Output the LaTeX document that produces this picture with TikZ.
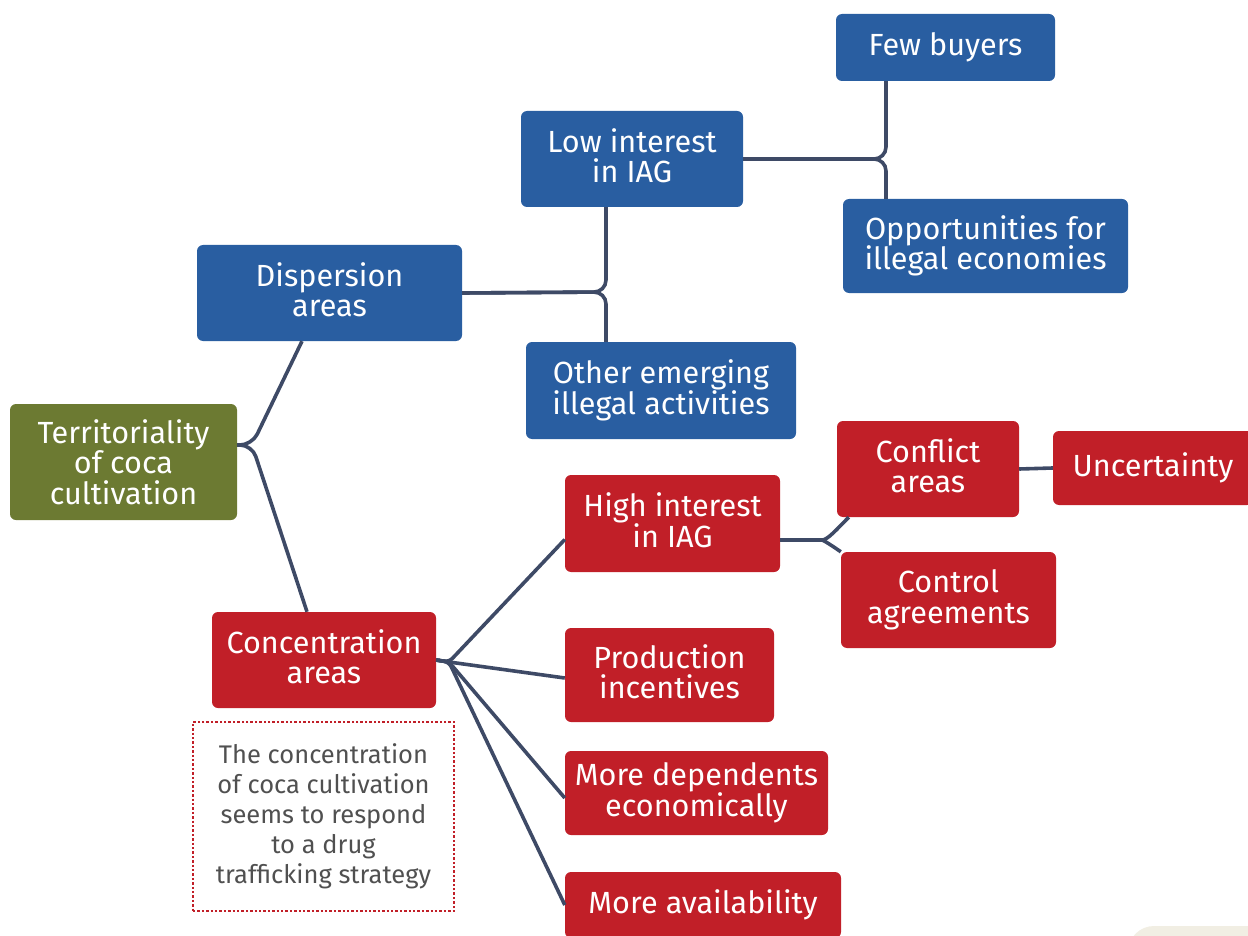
\documentclass[tikz,border=0pt]{standalone}
\usepackage{fontspec}
\setmainfont{Fira Sans}
\definecolor{iagblue}{HTML}{295EA1}
\definecolor{iagred}{HTML}{C11F28}
\definecolor{iagolive}{HTML}{6C7A32}
\definecolor{iagline}{HTML}{3E4A66}
\definecolor{iaggrey}{HTML}{505050}
\definecolor{iagbeige}{HTML}{F1EEE3}
\tikzset{
	box/.style = {rounded corners=6pt, text=white, align=center, inner sep=0pt, font=\fontsize{30.6}{30.5}\selectfont},
	bluebox/.style = {box, fill=iagblue},
	redbox/.style = {box, fill=iagred},
	rootbox/.style = {box, fill=iagolive},
	raised/.style = {text depth=7pt},
	notebox/.style = {draw=iagred, line width=2.4pt, dash pattern=on 2.4pt off 2pt, text=iaggrey, align=center, inner sep=0pt, font=\fontsize{25.5}{30}\selectfont},
	link/.style = {draw=iagline, line width=3.6pt, rounded corners=12pt}
}

\begin{document}
\begin{tikzpicture}[x=1pt, y=1pt]
		\useasboundingbox (0,0) rectangle (1248,-936);
		\fill[iagbeige, rounded corners=26pt] (1128,-926) rectangle (1320,-1010);
		\node[rootbox, minimum width=227pt, minimum height=116pt] (root) at (123.5,-462) {Territoriality\\of coca\\cultivation};
		\node[bluebox, raised, minimum width=265pt, minimum height=96pt] (disp) at (329.5,-293) {Dispersion\\areas};
		\node[bluebox, raised, minimum width=222pt, minimum height=96pt] (low) at (632,-159) {Low interest\\in IAG};
		\node[bluebox, minimum width=219pt, minimum height=67pt] (few) at (945.5,-47.5) {Few buyers};
		\node[bluebox, minimum width=285pt, minimum height=94pt] (opp) at (985.5,-246) {Opportunities for\\illegal economies};
		\node[bluebox, minimum width=270pt, minimum height=97pt] (other) at (661,-390.5) {Other emerging\\illegal activities};
		\node[redbox, raised, minimum width=224pt, minimum height=96pt] (conc) at (324,-660) {Concentration\\areas};
		\node[redbox, raised, minimum width=215pt, minimum height=97pt] (high) at (672.5,-523.5) {High interest\\in IAG};
		\node[redbox, raised, minimum width=209pt, minimum height=94pt] (prod) at (669.5,-675) {Production\\incentives};
		\node[redbox, minimum width=263pt, minimum height=84pt] (dep) at (696.5,-793) {More dependents\\economically};
		\node[redbox, minimum width=276pt, minimum height=66pt] (avail) at (703,-905) {More availability};
		\node[redbox, raised, minimum width=182pt, minimum height=96pt] (confl) at (928,-469) {Conflict\\areas};
		\node[redbox, minimum width=200pt, minimum height=74pt] (uncert) at (1153,-468) {Uncertainty};
		\node[redbox, minimum width=215pt, minimum height=96pt] (control) at (948.5,-600) {Control\\agreements};
		\node[notebox, minimum width=261pt, minimum height=189pt] (note) at (323.5,-816.5) {The concentration\\of coca cultivation\\seems to respond\\to a drug\\trafficking strategy};
		\coordinate (rootfork) at (252,-445);
		\coordinate (dispfork) at (606,-292);
		\coordinate (lowfork) at (886,-159);
		\coordinate (concfork) at (449,-662);
		\coordinate (highfork) at (810,-540);
		\draw[link] ([yshift=17pt]root.east) -- (rootfork) -- ([xshift=-27.5pt]disp.south);
		\draw[link] ([yshift=17pt]root.east) -- (rootfork) -- ([xshift=-17pt]conc.north);
		\draw[link] (disp.east) -- (dispfork) -- (low.south -| dispfork);
		\draw[link] (disp.east) -- (dispfork) -- (other.north -| dispfork);
		\draw[link] (low.east) -- (lowfork) -- (few.south -| lowfork);
		\draw[link] (low.east) -- (lowfork) -- (opp.north -| lowfork);
		\draw[link, rounded corners=5pt] (conc.east) -- (concfork) -- ([yshift=-16pt]high.west);
		\draw[link, rounded corners=5pt] (conc.east) -- (concfork) -- ([yshift=-3pt]prod.west);
		\draw[link, rounded corners=5pt] (conc.east) -- (concfork) -- ([yshift=-5pt]dep.west);
		\draw[link, rounded corners=5pt] (conc.east) -- (concfork) -- (avail.west);
		\draw[link] ([yshift=-16.5pt]high.east) -- (highfork) to[out=0, in=-135] ([xshift=12pt]confl.south west);
		\draw[link] ([yshift=-16.5pt]high.east) -- (highfork) to[out=0, in=145] (control.north west);
		\draw[link] (confl.east) -- (uncert.west);
	\end{tikzpicture}
\end{document}
